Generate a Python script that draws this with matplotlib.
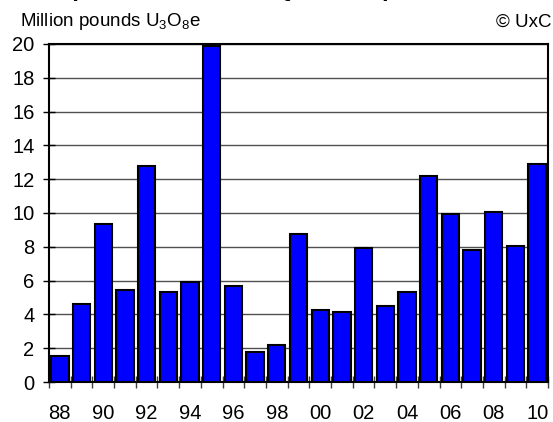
import matplotlib
matplotlib.use("Agg")
import matplotlib.pyplot as plt
from matplotlib.ticker import FixedLocator

# =======================
# DATA
# =======================

YEARS = ["88", "89", "90", "91", "92", "93", "94", "95", "96", "97", "98", "99",
         "00", "01", "02", "03", "04", "05", "06", "07", "08", "09", "10"]
VOLUMES = [1.54, 4.62, 9.35, 5.44, 12.8, 5.33, 5.94, 19.9, 5.68, 1.78, 2.21, 8.76,
           4.26, 4.12, 7.93, 4.50, 5.33, 12.17, 9.94, 7.81, 10.06, 8.05, 12.9]
Y_TICKS = [0, 2, 4, 6, 8, 10, 12, 14, 16, 18, 20]

TITLE = "Comparison of Fourth Quarter Spot Purchases"
UNIT_LABEL = "Million pounds U$_3$O$_8$e"
SOURCE = "© UxC"

plt.rcParams["font.family"] = ["Liberation Sans", "DejaVu Sans"]
plt.rcParams["mathtext.fontset"] = "custom"
plt.rcParams["mathtext.rm"] = "Liberation Sans"
plt.rcParams["mathtext.it"] = "Liberation Sans"

W, H = 553, 422
fig = plt.figure(figsize=(W / 100, H / 100), dpi=100)
ax = fig.add_axes([49 / W, (H - 382) / H, 499 / W, 338 / H])

x = list(range(len(YEARS)))
ax.bar(x, VOLUMES, width=0.8, color="#0000FF", edgecolor="black",
       linewidth=1.5, zorder=3)

ax.set_xlim(-0.5, len(YEARS) - 0.5)
ax.set_ylim(0, 20)

# y axis
ax.set_yticks(Y_TICKS)
ax.tick_params(axis="y", direction="inout", length=9, width=1, pad=6, labelsize=14.5)
ax.yaxis.grid(True, color="#505050", linewidth=1, zorder=0)

# x axis: labels every other year, tick marks between categories
ax.set_xticks(x[::2])
ax.set_xticklabels(YEARS[::2])
ax.tick_params(axis="x", which="major", length=0, pad=16, labelsize=14.5)
ax.xaxis.set_minor_locator(FixedLocator([i - 0.5 for i in range(len(YEARS) + 1)]))
ax.tick_params(axis="x", which="minor", direction="inout", length=8, width=1, color="#404040")

for s in ax.spines.values():
    s.set_linewidth(1.5)
    s.set_color("black")

# header texts (title sits mostly above the top edge, as in the source image)
fig.text(22 / W, 1 + 4 / H, TITLE, fontsize=17, fontweight="bold", fontstyle="italic",
         ha="left", va="baseline")
fig.text(20 / W, 1 - 26.5 / H, UNIT_LABEL, fontsize=13.5, ha="left", va="baseline")
fig.text(551 / W, 1 - 26.5 / H, SOURCE, fontsize=13.5, ha="right", va="baseline")

fig.savefig("out.png", dpi=100)
